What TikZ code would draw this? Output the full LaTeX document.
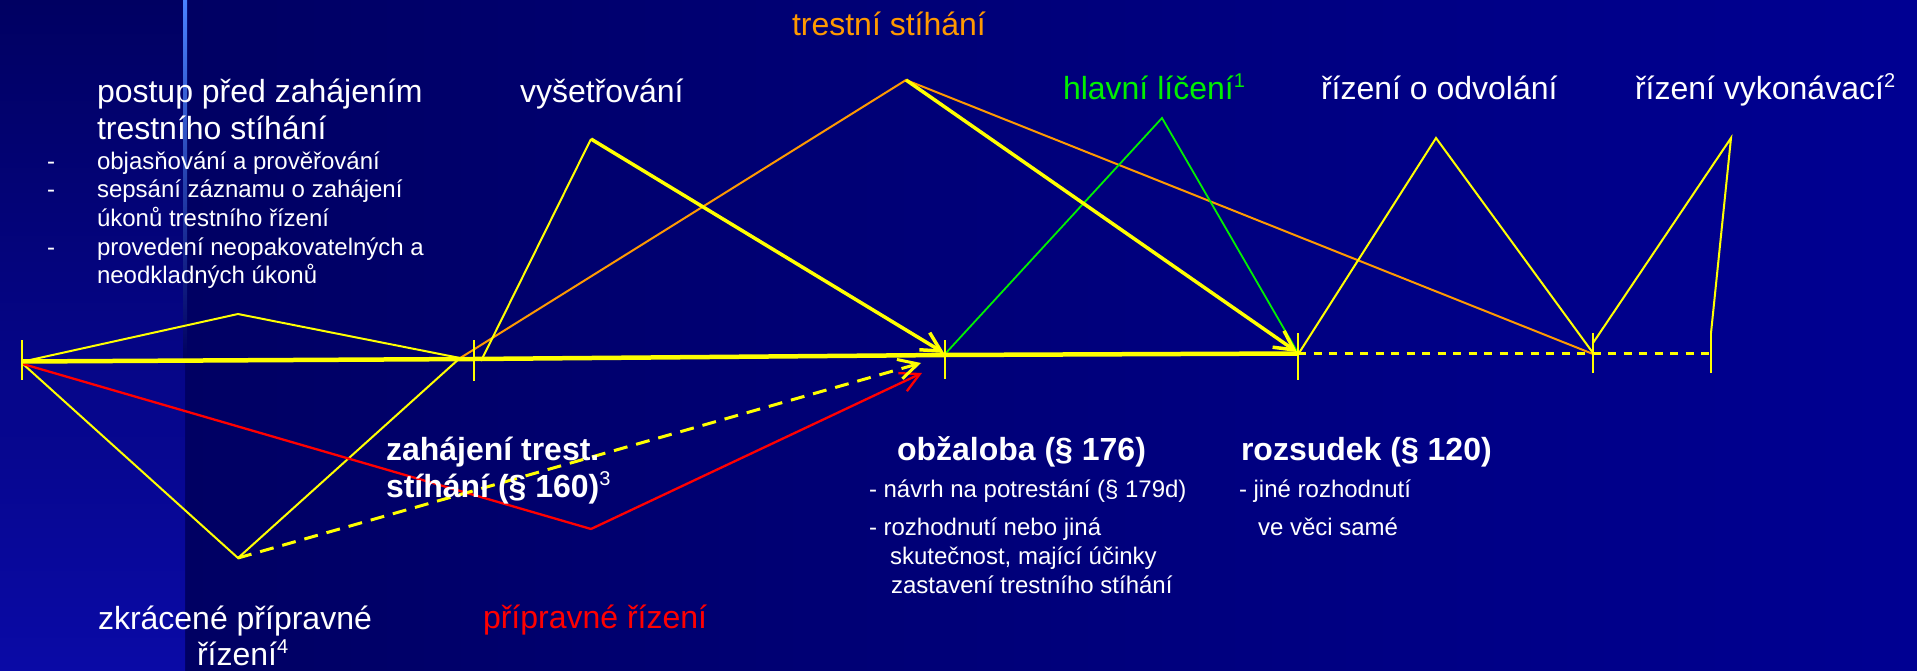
\documentclass[tikz,border=0pt]{standalone}
\usepackage{fontspec}
\setmainfont{Liberation Sans}
\usetikzlibrary{arrows.meta}
\definecolor{bgA}{HTML}{00005E}
\definecolor{bgB}{HTML}{000092}
\definecolor{stripTop}{HTML}{000062}
\definecolor{stripBot}{HTML}{0A0AA6}
\definecolor{lineTop}{HTML}{4A82FF}
\definecolor{ppyellow}{HTML}{FFFF00}
\definecolor{pporange}{HTML}{FF9900}
\definecolor{ppgreen}{HTML}{00F000}
\definecolor{ppred}{HTML}{FF0000}
\newcommand\mysup[1]{\raisebox{12pt}{\fontsize{20}{20}\selectfont\mdseries #1}}
\begin{document}
\begin{tikzpicture}[x=1pt,y=-1pt,
  every node/.style={inner sep=0pt, outer sep=0pt},
  lbl/.style={anchor=base west, text=white, font=\fontsize{32}{38}\selectfont},
  lblsm/.style={anchor=base west, text=white, font=\fontsize{24}{28}\selectfont},
  lblb/.style={anchor=base west, text=white, font=\fontsize{32}{38}\selectfont\bfseries},
  axisln/.style={draw=ppyellow, line width=4.5pt},
  tickln/.style={draw=ppyellow, line width=1.8pt},
  thinln/.style={draw=ppyellow, line width=2pt},
  dashax/.style={draw=ppyellow, line width=2.5pt, dash pattern=on 8pt off 7.5pt},
  barb/.style={-{Straight Barb[length=19pt,width=20pt]}},
  thickarr/.style={draw=ppyellow, line width=3.5pt, barb},
  redln/.style={draw=ppred, line width=2.3pt},
  orln/.style={draw=pporange, line width=2pt},
  grln/.style={draw=ppgreen, line width=1.8pt},
  dasharr/.style={draw=ppyellow, line width=3pt, dash pattern=on 14pt off 9pt, barb}
]
\useasboundingbox (0,0) rectangle (1917,671);
% background
\shade[left color=bgA, right color=bgB] (0,0) rectangle (1917,671);
\shade[top color=stripTop, bottom color=stripBot] (0,0) rectangle (185,671);
\shade[top color=lineTop, bottom color=bgA] (183,0) rectangle (187,360);

% axis points
\coordinate (A0) at (22,361.5);
\coordinate (A1) at (474,359);
\coordinate (A2) at (945,355);
\coordinate (A3) at (1298,353.5);
\coordinate (A4) at (1593,353.5);
\coordinate (A5) at (1711,353.5);
% tick ends
\coordinate (T0a) at (22,340);   \coordinate (T0b) at (22,380);
\coordinate (T1a) at (474,340);  \coordinate (T1b) at (474,381);
\coordinate (T2a) at (945,340);  \coordinate (T2b) at (945,379);
\coordinate (T3a) at (1298,333); \coordinate (T3b) at (1298,380);
\coordinate (T4a) at (1593,333); \coordinate (T4b) at (1593,373);
\coordinate (T5a) at (1711,333); \coordinate (T5b) at (1711,373);
% triangle points
\coordinate (S0) at (30,360);
\coordinate (S1) at (238,314);
\coordinate (S2) at (460,358);
\coordinate (Z0) at (23,364);
\coordinate (Z1) at (238,558);
\coordinate (R1) at (591,529);
\coordinate (R2) at (922,373);
\coordinate (D2) at (921,363);
\coordinate (O0) at (457,360);
\coordinate (O1) at (906,80);
\coordinate (O2) at (1593,354);
\coordinate (V0) at (481,361);
\coordinate (V1) at (591,139);
\coordinate (V2) at (944,353);
\coordinate (Y2) at (1297,352);
\coordinate (G0) at (945,354);
\coordinate (G1) at (1162,118);
\coordinate (G2) at (1298,353);
\coordinate (P0) at (1299,353);
\coordinate (P1) at (1436,138);
\coordinate (P2) at (1593,353);
\coordinate (K0) at (1593,343);
\coordinate (K1) at (1731,138);
\coordinate (K2) at (1711,333);

% thin triangles
\draw[thinln] (S0) -- (S1) -- (S2);
\draw[thinln] (Z0) -- (Z1) -- (S2);
\draw[orln] (O0) -- (O1) -- (O2);
\draw[thinln] (V0) -- (V1);
\draw[grln] (G0) -- (G1) -- (G2);
\draw[thinln] (P0) -- (P1) -- (P2);
\draw[thinln] (K0) -- (K1) -- (K2);
% red and dashed
\draw[redln] (Z0) -- (R1);
\draw[redln, barb] (R1) -- (R2);
\draw[dasharr] (Z1) -- (D2);
% axis
\draw[axisln] (A0) -- (A1) -- (A2) -- (A3);
\draw[dashax] (A3) -- (A5);
\foreach \t in {0,...,5} { \draw[tickln] (T\t a) -- (T\t b); }
% thick arrows
\draw[thickarr] (V1) -- (V2);
\draw[thickarr] (O1) -- (Y2);

% labels
\node[lbl, text=pporange] (tst) at (792,36) {trestní stíhání};
\node[lbl] (pp1) at (97,103) {postup před zahájením};
\node[lbl] (pp2) at (97,140) {trestního stíhání};
\node[lblsm] (d1) at (47,170) {-};
\node[lblsm] (b1) at (97,170) {objasňování a prověřování};
\node[lblsm] (d2) at (47,198) {-};
\node[lblsm] (b2) at (97,198) {sepsání záznamu o zahájení};
\node[lblsm] (b3) at (97,227) {úkonů trestního řízení};
\node[lblsm] (d3) at (47,255) {-};
\node[lblsm] (b4) at (97,255) {provedení neopakovatelných a};
\node[lblsm] (b5) at (97,283) {neodkladných úkonů};
\node[lbl] (vys) at (520,103) {vyšetřování};
\node[lbl, text=ppgreen] (hl) at (1063,100) {hlavní líčení\mysup{1}};
\node[lbl] (odv) at (1321,100) {řízení o odvolání};
\node[lbl] (vyk) at (1635,100) {řízení vykonávací\mysup{2}};
\node[lblb] (zt1) at (386,460) {zahájení trest.};
\node[lblb] (zt2) at (386,497) {stíhání (§ 160)\mysup{3}};
\node[lblb] (obz) at (897,460) {obžaloba (§ 176)};
\node[lblb] (roz) at (1241,460) {rozsudek (§ 120)};
\node[lblsm] (o1) at (869,497) {- návrh na potrestání (§ 179d)};
\node[lblsm] (o2) at (869,535) {- rozhodnutí nebo jiná};
\node[lblsm] (o3) at (890,564) {skutečnost, mající účinky};
\node[lblsm] (o4) at (891,593) {zastavení trestního stíhání};
\node[lblsm] (r1) at (1239,497) {- jiné rozhodnutí};
\node[lblsm] (r2) at (1258,535) {ve věci samé};
\node[lbl] (zk1) at (98,629) {zkrácené přípravné};
\node[lbl] (zk2) at (197,665) {řízení\mysup{4}};
\node[lbl, text=ppred] (pr) at (483,628) {přípravné řízení};
\end{tikzpicture}
\end{document}
